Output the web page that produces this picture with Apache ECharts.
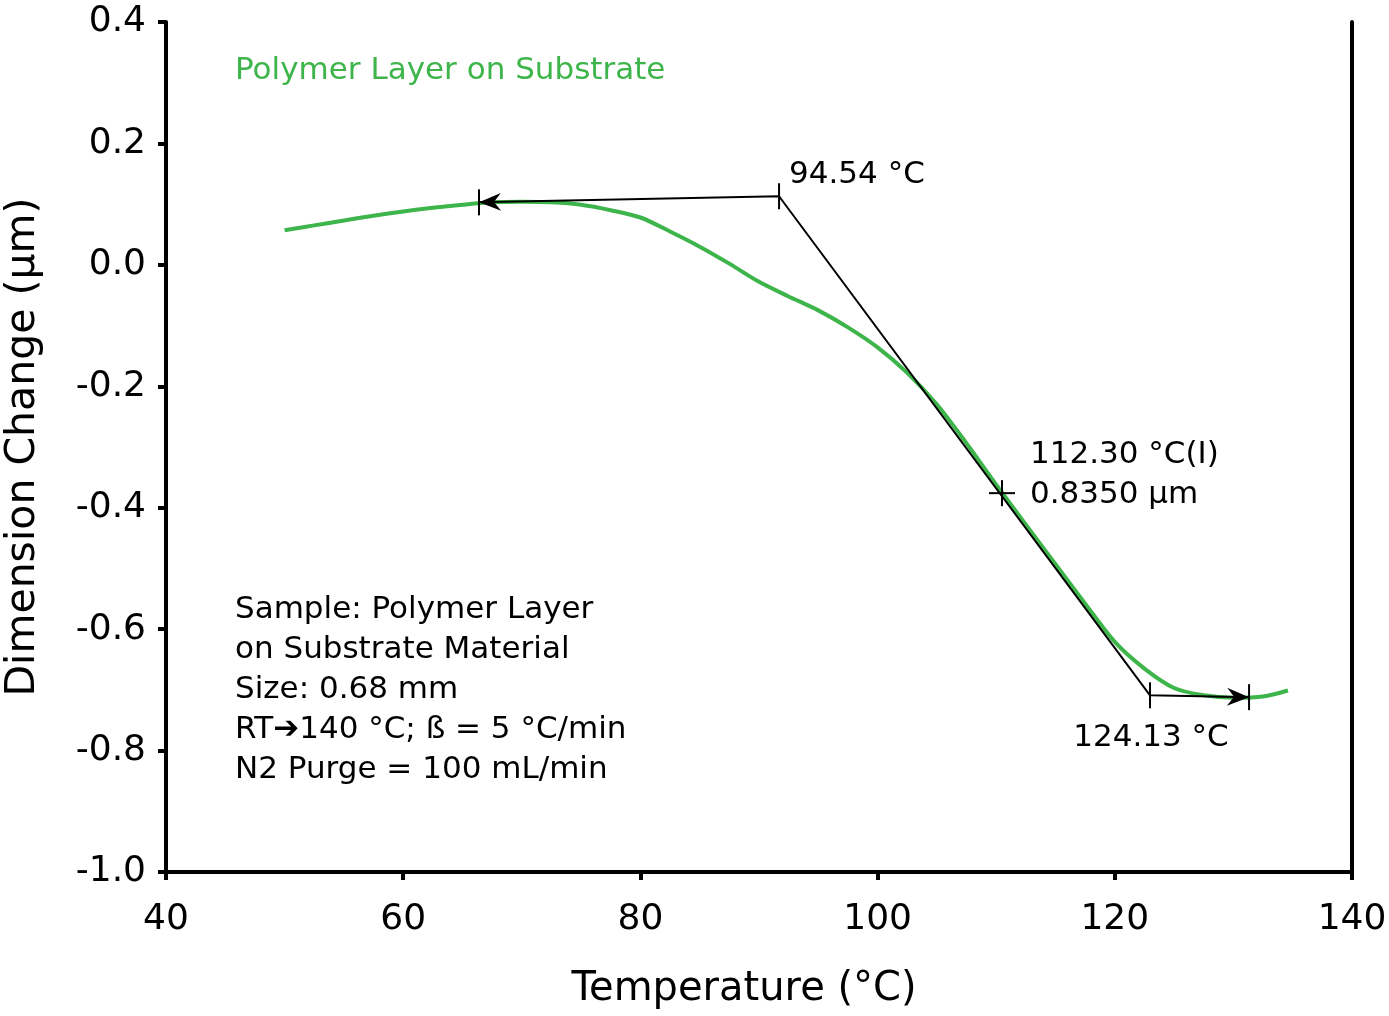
<!DOCTYPE html>
<html>
<head>
<meta charset="utf-8">
<script src="https://cdn.jsdelivr.net/npm/echarts@6/dist/echarts.min.js"></script>
<style>
  html, body { margin: 0; padding: 0; background: #fff; }
  #main { width: 1389px; height: 1016px; }
</style>
</head>
<body>
<div id="main"></div>
<script>
// curve (°C, µm)
const temps = [50, 52.5, 55, 57.5, 60, 62.5, 65, 67.5, 70, 72.5, 75, 77.5, 80, 82.5, 85, 87.5, 90, 92.5, 95, 97.5,
  100, 102.5, 105, 107.5, 110, 112.5, 115, 117.5, 120, 122.5, 125, 127.5, 130, 132.5, 134.6]
const dims = [0.057, 0.065, 0.073, 0.081, 0.088, 0.094, 0.099, 0.103, 0.104, 0.103, 0.099, 0.090, 0.078, 0.055, 0.030,
  0.002, -0.028, -0.052, -0.075, -0.103, -0.136, -0.178, -0.230, -0.294, -0.362, -0.428, -0.493, -0.558, -0.621,
  -0.665, -0.697, -0.709, -0.713, -0.711, -0.701]

// onset / endset tangent construction
const tangentX = [66.39, 91.69, 122.97, 131.32]
const tangentY = [0.103, 0.113, -0.709, -0.712]
const inflection = [110.49, -0.376]

const onsetLabel = '94.54 °C'
const inflectionLabels = ['112.30 °C(I)', '0.8350 µm']
const endLabel = '124.13 °C'
const seriesName = 'Polymer Layer on Substrate'
const sampleInfo = [
  'Sample: Polymer Layer',
  'on Substrate Material',
  'Size: 0.68 mm',
  'RT\u2794140 °C; ß = 5 °C/min',
  'N2 Purge = 100 mL/min'
]

const FONT = '"DejaVu Sans", sans-serif'
const green = '#3db54a'

const curve = temps.map((t, i) => [t, dims[i]])
const tangent = tangentX.map((t, i) => [t, tangentY[i]])

function arrow(tip, from) {
  const dx = tip[0] - from[0], dy = tip[1] - from[1]
  const len = Math.sqrt(dx * dx + dy * dy)
  const ux = dx / len, uy = dy / len
  const nx = -uy, ny = ux
  const L = 22, W = 9, N = 15
  return {
    type: 'polygon',
    shape: { points: [
      tip,
      [tip[0] - ux * L + nx * W, tip[1] - uy * L + ny * W],
      [tip[0] - ux * N, tip[1] - uy * N],
      [tip[0] - ux * L - nx * W, tip[1] - uy * L - ny * W]
    ] },
    style: { fill: '#000' }
  }
}

const myChart = echarts.init(document.getElementById('main'))
myChart.setOption({
  animation: false,
  backgroundColor: '#fff',
  grid: { left: 166, right: 37, top: 22, bottom: 144, outerBoundsMode: 'none', containLabel: false },
  xAxis: {
    type: 'value',
    min: 40,
    max: 140,
    interval: 20,
    name: 'Temperature (°C)',
    nameLocation: 'middle',
    nameGap: 98,
    nameTextStyle: { fontFamily: FONT, fontSize: 40, color: '#000', padding: [0, 30, 0, 0] },
    axisLine: { onZero: false, lineStyle: { color: '#000', width: 4 } },
    axisTick: { inside: false, length: 8, lineStyle: { width: 4, color: '#000' } },
    axisLabel: { fontFamily: FONT, fontSize: 36, color: '#000', margin: 30 },
    splitLine: { show: false }
  },
  yAxis: [{
    type: 'value',
    min: -1.0,
    max: 0.4,
    interval: 0.2,
    name: 'Dimension Change (µm)',
    nameLocation: 'middle',
    nameGap: 122,
    nameTextStyle: { fontFamily: FONT, fontSize: 41, color: '#000' },
    axisLine: { show: true, onZero: false, lineStyle: { color: '#000', width: 4 } },
    axisTick: { show: true, inside: false, length: 8, lineStyle: { width: 4, color: '#000' } },
    axisLabel: {
      fontFamily: FONT, fontSize: 36, color: '#000', margin: 20,
      formatter: v => v.toFixed(1)
    },
    splitLine: { show: false }
  }, {
    type: 'value',
    position: 'right',
    min: -1.0,
    max: 0.4,
    axisLine: { show: true, onZero: false, lineStyle: { color: '#000', width: 4 } },
    axisTick: { show: false },
    axisLabel: { show: false },
    splitLine: { show: false }
  }],
  series: [
    {
      name: seriesName,
      type: 'line',
      data: curve,
      smooth: 0.3,
      showSymbol: false,
      lineStyle: { color: green, width: 4 },
      z: 2
    },
    {
      type: 'line',
      data: tangent,
      showSymbol: false,
      lineStyle: { color: '#000', width: 2 },
      z: 3
    },
    {
      type: 'custom',
      z: 4,
      data: [0],
      renderItem: (params, api) => {
        const p = tangent.map(d => api.coord(d))
        const c = api.coord(inflection)
        const children = []
        p.forEach(q => children.push({
          type: 'line',
          shape: { x1: q[0], y1: q[1] - 13, x2: q[0], y2: q[1] + 13 },
          style: { stroke: '#000', lineWidth: 2 }
        }))
        children.push(arrow(p[0], p[1]))
        children.push(arrow(p[3], p[2]))
        children.push({ type: 'line', shape: { x1: c[0] - 13, y1: c[1], x2: c[0] + 13, y2: c[1] },
          style: { stroke: '#000', lineWidth: 2 } })
        children.push({ type: 'line', shape: { x1: c[0], y1: c[1] - 13, x2: c[0], y2: c[1] + 13 },
          style: { stroke: '#000', lineWidth: 2 } })
        const txt = (x, y, text, align) => ({
          type: 'text',
          style: { x, y, text, font: '31px ' + FONT, fill: '#000', align, verticalAlign: 'middle' }
        })
        children.push(txt(p[1][0] + 10, p[1][1] - 21, onsetLabel, 'left'))
        children.push(txt(c[0] + 28, c[1] - 38, inflectionLabels[0], 'left'))
        children.push(txt(c[0] + 28, c[1] + 2, inflectionLabels[1], 'left'))
        children.push(txt(p[2][0] + 1, p[2][1] + 43, endLabel, 'center'))
        return { type: 'group', children }
      }
    }
  ],
  graphic: [
    {
      type: 'text',
      x: 235,
      y: 71,
      style: { text: seriesName, font: '31px ' + FONT, fill: green, verticalAlign: 'middle' }
    },
    {
      type: 'text',
      x: 235,
      y: 590,
      style: { text: sampleInfo.join('\n'), font: '31px ' + FONT, lineHeight: 40, fill: '#000', verticalAlign: 'top' }
    }
  ]
})
</script>
</body>
</html>
